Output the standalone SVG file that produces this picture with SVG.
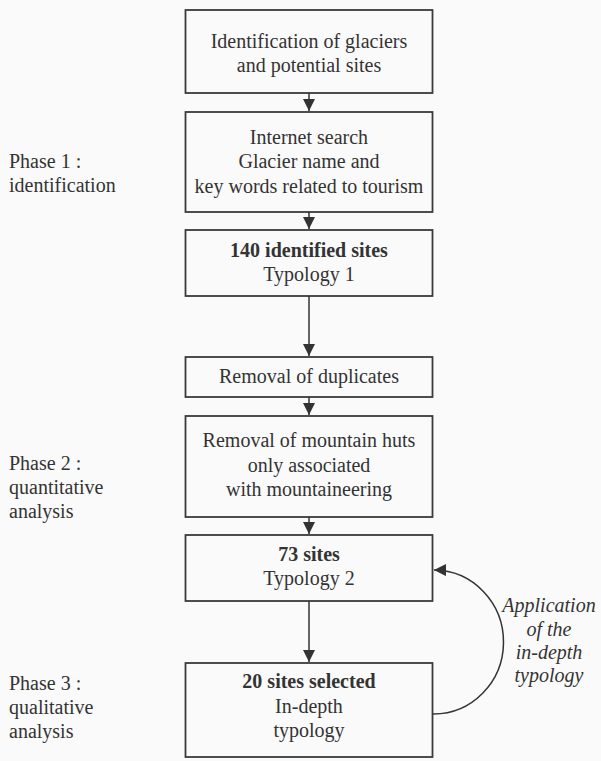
<svg xmlns="http://www.w3.org/2000/svg" width="601" height="761" viewBox="0 0 601 761">
<style>
text{font-family:"Liberation Serif","Times New Roman",Tinos,"DejaVu Serif",serif;font-size:20px;fill:#333}
.c{text-anchor:middle}
.b{font-weight:bold}
.i{font-style:italic}
.box{fill:none;stroke:#3a3a3a;stroke-width:1.8}
.con{fill:none;stroke:#333;stroke-width:1.5}
</style>
<defs>
<marker id="ah" markerUnits="userSpaceOnUse" markerWidth="12" markerHeight="12" viewBox="0 0 10 10" refX="10" refY="5" orient="auto">
<path d="M0,0 L10,5 L0,10 z" fill="#333"/>
</marker>
</defs>
<rect x="0" y="0" width="601" height="761" fill="#fafafa"/>
<g id="labels">
<text x="9" y="168">Phase 1 :</text>
<text x="9" y="192">identification</text>
<text x="9" y="470">Phase 2 :</text>
<text x="9" y="494">quantitative</text>
<text x="9" y="518">analysis</text>
<text x="9" y="690">Phase 3 :</text>
<text x="9" y="714">qualitative</text>
<text x="9" y="738">analysis</text>
</g>
<g id="n1">
<rect class="box" x="185.5" y="10" width="247" height="83"/>
<text class="c" x="309" y="48">Identification of glaciers</text>
<text class="c" x="309" y="72">and potential sites</text>
</g>
<g id="n2">
<rect class="box" x="185.5" y="112" width="247" height="100"/>
<text class="c" x="309" y="144">Internet search</text>
<text class="c" x="309" y="168">Glacier name and</text>
<text class="c" x="309" y="193">key words related to tourism</text>
</g>
<g id="n3">
<rect class="box" x="185.5" y="230" width="247" height="66"/>
<text class="c b" x="309" y="257">140 identified sites</text>
<text class="c" x="309" y="281">Typology 1</text>
</g>
<g id="n4">
<rect class="box" x="185.5" y="357" width="247" height="40"/>
<text class="c" x="309" y="383">Removal of duplicates</text>
</g>
<g id="n5">
<rect class="box" x="185.5" y="416" width="247" height="101"/>
<text class="c" x="309" y="447">Removal of mountain huts</text>
<text class="c" x="309" y="472">only associated</text>
<text class="c" x="309" y="496">with mountaineering</text>
</g>
<g id="n6">
<rect class="box" x="185.5" y="535" width="247" height="66"/>
<text class="c b" x="309" y="561">73 sites</text>
<text class="c" x="309" y="585">Typology 2</text>
</g>
<g id="n7">
<rect class="box" x="185.5" y="663" width="247" height="94"/>
<text class="c b" x="309" y="688">20 sites selected</text>
<text class="c" x="309" y="713">In-depth</text>
<text class="c" x="309" y="737">typology</text>
</g>
<g id="curve-label">
<text class="c i" x="549" y="612">Application</text>
<text class="c i" x="549" y="636">of the</text>
<text class="c i" x="549" y="659">in-depth</text>
<text class="c i" x="549" y="682">typology</text>
</g>
<g id="connectors">
<line class="con" x1="309" y1="93" x2="309" y2="111" marker-end="url(#ah)"/>
<line class="con" x1="309" y1="212" x2="309" y2="229" marker-end="url(#ah)"/>
<line class="con" x1="309" y1="296" x2="309" y2="356" marker-end="url(#ah)"/>
<line class="con" x1="309" y1="397" x2="309" y2="415" marker-end="url(#ah)"/>
<line class="con" x1="309" y1="517" x2="309" y2="534" marker-end="url(#ah)"/>
<line class="con" x1="309" y1="601" x2="309" y2="662" marker-end="url(#ah)"/>
<path class="con" d="M433,714 A70,72 0 0 0 434,570" marker-end="url(#ah)"/>
</g>
</svg>
